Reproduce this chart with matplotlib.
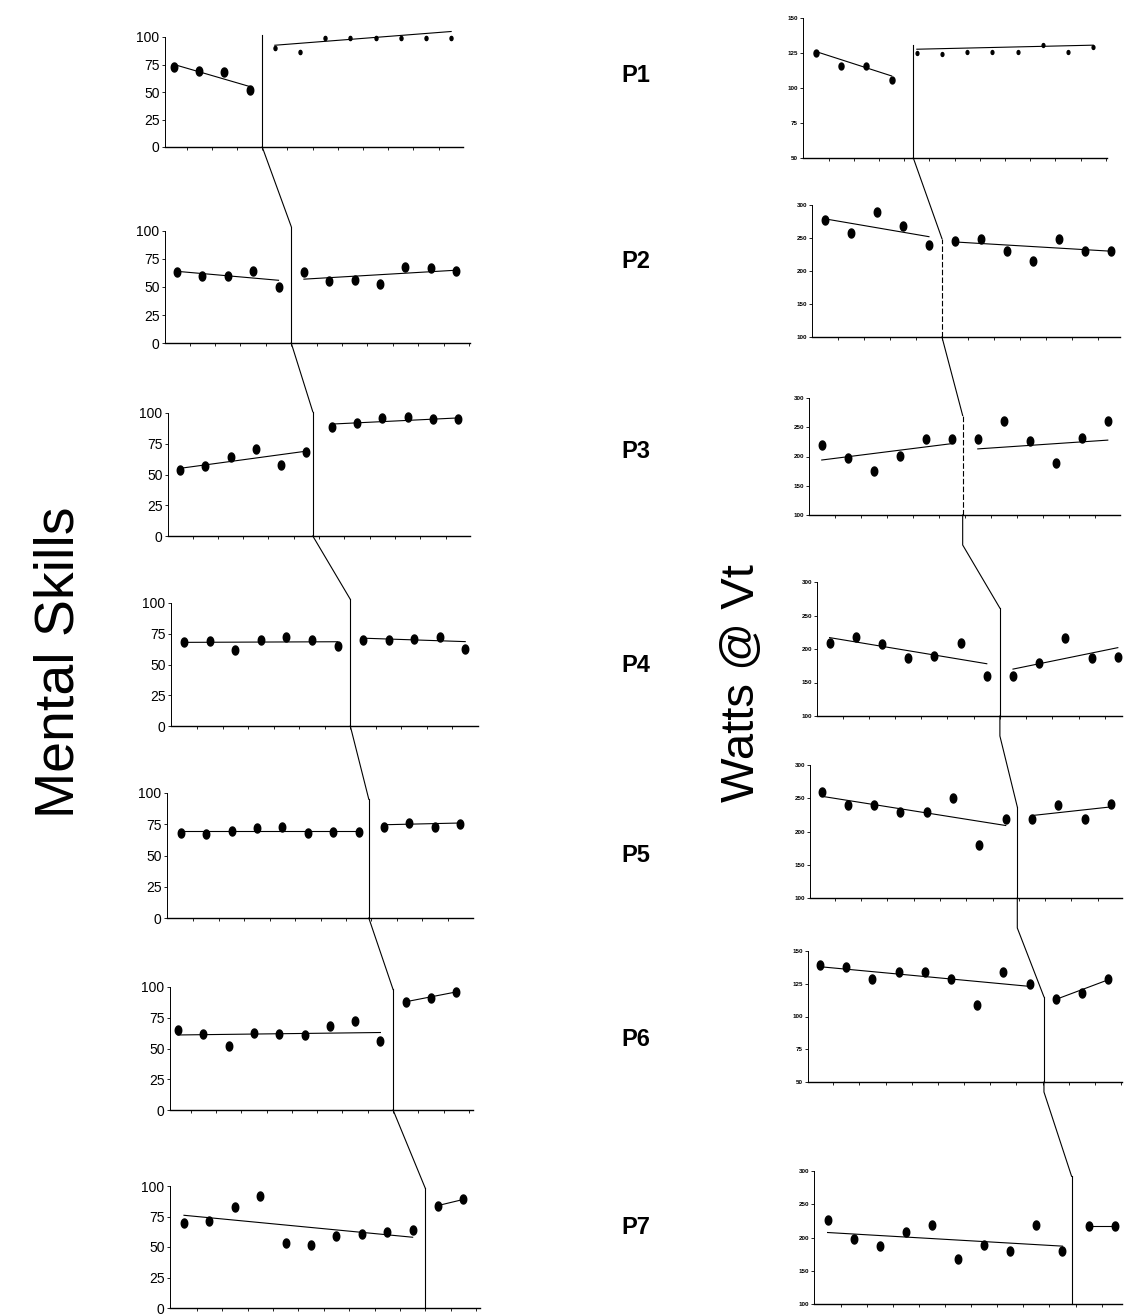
import numpy as np
import matplotlib
matplotlib.use("Agg")
import matplotlib.pyplot as plt
from matplotlib.path import Path
from matplotlib.lines import Line2D

plt.rcParams["font.family"] = ["Liberation Sans", "DejaVu Sans"]

W, H = 1124, 1316

# ---- data ----
participants = ["P1", "P2", "P3", "P4", "P5", "P6", "P7"]

# Mental skills (left column)
ms_base = [
    [73, 69, 68, 52],
    [63, 60, 60, 64, 50],
    [54, 57, 64, 71, 58, 68],
    [68, 69, 62, 70, 72, 70, 65],
    [68, 67, 70, 72, 73, 68, 69, 69],
    [65, 62, 52, 63, 62, 61, 68, 72, 56],
    [70, 71, 83, 92, 53, 52, 59, 61, 62, 64],
]
ms_treat = [
    [90, 86, 99, 99, 99, 99, 99, 99],
    [63, 55, 56, 53, 68, 67, 64],
    [89, 92, 96, 97, 95, 95],
    [70, 70, 71, 72, 63],
    [73, 76, 73, 75],
    [88, 91, 96],
    [84, 89],
]
ms_base_fit = [(75, 55), (64, 56), (55, 69), (68, 68.5), (69.3, 69.3), (61, 63), (76, 58)]
ms_treat_fit = [(92.5, 105), (57, 65), (91, 96), (71.4, 68.6), (74.6, 76), (88, 96), (84, 89)]
ms_phase = [4.5, 5.5, 6.25, 7.5, 8.4, 9.5, 10.5]
ms_phase_top = [102, 104, 101, 103, 95, 98, 98]
ms_yticks = [0, 25, 50, 75, 100]

# Watts @ Vt (right column)
wv_base = [
    [125, 115.5, 115.5, 105.5],
    [278, 258, 289, 268, 240],
    [219, 197, 175, 201, 230, 230],
    [209, 218, 208, 187, 189, 209, 159],
    [259, 240, 240, 230, 229, 251, 180, 219],
    [139, 138, 129, 134, 134, 129, 109, 134, 125],
    [227, 198, 187, 209, 219, 168, 189, 180, 219, 180],
]
wv_treat = [
    [125, 124, 125.5, 125.5, 125.5, 130.5, 125.5, 129.5],
    [246, 249, 230, 215, 248, 230, 230],
    [230, 260, 227, 189, 231, 260],
    [159, 179, 217, 187, 188],
    [219, 240, 219, 241],
    [113, 118, 129],
    [217, 217],
]
wv_base_fit = [(126, 108.6), (279, 252), (194, 222), (217, 178), (253, 209), (138, 123), (207.5, 187)]
wv_treat_fit = [(127.7, 130.6), (244, 230), (213, 228), (170, 202), (224, 237), (113, 128), (217, 217)]
wv_phase = [4.86, 5.5, 6.42, 7.5, 8.44, 9.55, 10.35]
wv_phase_top = [130.5, 249, 270, 261, 237, 115, 292]
wv_yticks = [
    [50, 75, 100, 125, 150],
    [100, 150, 200, 250, 300],
    [100, 150, 200, 250, 300],
    [100, 150, 200, 250, 300],
    [100, 150, 200, 250, 300],
    [50, 75, 100, 125, 150],
    [100, 150, 200, 250, 300],
]

# ---- layout (pixels: left, top, right, bottom) ----
left_rects = [(165, 37, 463, 147), (165, 231, 470, 343), (168, 413, 470, 536),
              (171, 603, 478, 726), (167, 793, 473, 918), (170, 987, 473, 1110),
              (170, 1186, 480, 1308)]
left_xlims = [(0.64, 12.47), (0.53, 12.54), (0.53, 12.46), (0.48, 12.5),
              (0.46, 12.5), (0.68, 12.66), (0.45, 12.65)]
right_rects = [(803, 18, 1107, 158), (812, 205, 1120, 337), (809, 398, 1120, 515),
               (817, 582, 1122, 716), (810, 765, 1122, 898), (808, 951, 1122, 1082),
               (814, 1171, 1122, 1304)]
right_xlims = [(0.48, 12.55), (0.5, 12.35), (0.51, 12.47), (0.52, 12.16),
               (0.56, 12.42), (0.54, 12.53), (0.48, 12.28)]
right_drop = [0, 0, 30, 20, 30, 10]
label_y = [75, 262, 452, 666, 856, 1040, 1228]

theta = np.linspace(0, 2 * np.pi, 40)
ellipse = Path(np.c_[0.72 * np.cos(theta), np.sin(theta)], closed=True)


def px_axes(fig, rect):
    l, t, r, b = rect
    return fig.add_axes([l / W, 1 - b / H, (r - l) / W, (b - t) / H])


def draw_panel(ax, base, treat, bfit, tfit, phase, ptop, yticks, xlim,
               big_font, ms_b, ms_t, phase_ls="-"):
    xb = np.arange(1, len(base) + 1)
    xt = np.arange(len(base) + 1, len(base) + len(treat) + 1)
    ax.plot(xb, base, linestyle="none", marker=ellipse, ms=ms_b, color="black", clip_on=False)
    ax.plot(xt, treat, linestyle="none", marker=ellipse, ms=ms_t, color="black", clip_on=False)
    ax.plot([xb[0], xb[-1]], bfit, color="black", lw=0.8, clip_on=False)
    ax.plot([xt[0], xt[-1]], tfit, color="black", lw=0.8, clip_on=False)
    ax.plot([phase, phase], [yticks[0], ptop], color="black", lw=0.8,
            linestyle=phase_ls, clip_on=False)
    ax.set_xlim(*xlim)
    ax.set_ylim(yticks[0], yticks[-1])
    ax.set_yticks(yticks)
    ax.set_xticks(np.arange(1.5, xlim[1], 1))
    ax.set_xticklabels([])
    for s in ["top", "right"]:
        ax.spines[s].set_visible(False)
    ax.spines["left"].set_linewidth(0.7)
    ax.spines["bottom"].set_linewidth(1.0)
    ax.tick_params(axis="x", length=2.5, width=0.6, direction="out")
    if big_font:
        ax.tick_params(axis="y", length=2.5, width=0.6, pad=1.5, labelsize=10)
    else:
        ax.tick_params(axis="y", length=2, width=0.6, pad=1.5, labelsize=4.5)
        for lab in ax.get_yticklabels():
            lab.set_fontweight("bold")
    ax.patch.set_alpha(0)


fig = plt.figure(figsize=(W / 100, H / 100), dpi=100)

left_axes, right_axes = [], []
for i in range(7):
    ax = px_axes(fig, left_rects[i])
    draw_panel(ax, ms_base[i], ms_treat[i], ms_base_fit[i], ms_treat_fit[i],
               ms_phase[i], ms_phase_top[i], ms_yticks, left_xlims[i], True,
               6.5, 3 if i == 0 else 6.5)
    left_axes.append(ax)

    ax = px_axes(fig, right_rects[i])
    draw_panel(ax, wv_base[i], wv_treat[i], wv_base_fit[i], wv_treat_fit[i],
               wv_phase[i], wv_phase_top[i], wv_yticks[i], right_xlims[i], False,
               5 if i == 0 else 6.5, 2.8 if i == 0 else 6.5,
               (0, (5, 2)) if i in (1, 2) else "-")
    right_axes.append(ax)


def to_fig(ax, x, y):
    return fig.transFigure.inverted().transform(ax.transData.transform((x, y)))


# staircase connectors between phase-change lines
for col, phases, tops, yt, drops in [
        (left_axes, ms_phase, ms_phase_top, [ms_yticks] * 7, [0] * 6),
        (right_axes, wv_phase, wv_phase_top, wv_yticks, right_drop)]:
    for i in range(6):
        x0, y0 = to_fig(col[i], phases[i], yt[i][0])
        y0d = y0 - drops[i] / H
        x1, y1 = to_fig(col[i + 1], phases[i + 1], tops[i + 1])
        fig.add_artist(Line2D([x0, x0, x1], [y0, y0d, y1], transform=fig.transFigure,
                              color="black", lw=0.8))

for name, yy in zip(participants, label_y):
    fig.text(636 / W, 1 - yy / H, name, fontsize=17, fontweight="bold",
             ha="center", va="center")

fig.text(60 / W, 1 - 662 / H, "Mental Skills", fontsize=40, rotation=90,
         ha="center", va="center")
fig.text(742 / W, 1 - 683 / H, "Watts @ Vt", fontsize=34, rotation=90,
         ha="center", va="center")

fig.savefig("out.png", dpi=100, facecolor="white")
